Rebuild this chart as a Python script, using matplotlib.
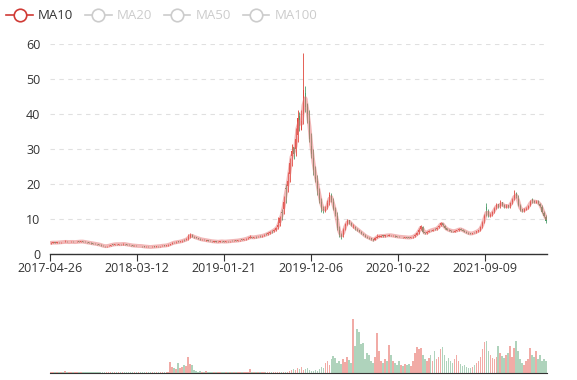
import matplotlib

matplotlib.use("Agg")
import matplotlib.pyplot as plt
import numpy as np
import pandas as pd
from matplotlib.lines import Line2D

plt.rcParams["font.family"] = ["Open Sans", "DejaVu Sans"]

# weekly candles (about 5 trading days each)
opens = [
    3.1, 3.2, 3.3, 3.2, 3.4, 3.3, 3.5, 3.4, 3.5, 3.3,
    3.4, 3.5, 3.3, 3.4, 3.6, 3.5, 3.6, 3.5, 3.4, 3.3,
    3.2, 3.0, 3.0, 2.9, 2.8, 2.7, 2.4, 2.3, 2.2, 2.3,
    2.4, 2.7, 2.6, 2.9, 2.7, 2.9, 2.8, 2.9, 2.8, 2.7,
    2.6, 2.5, 2.3, 2.4, 2.2, 2.4, 2.3, 2.2, 2.0, 2.1,
    2.1, 2.0, 2.2, 2.1, 2.3, 2.2, 2.3, 2.5, 2.4, 2.5,
    2.7, 3.0, 3.4, 3.3, 3.6, 3.5, 3.7, 4.1, 4.0, 4.4,
    4.9, 5.5, 4.9, 4.8, 4.5, 4.3, 4.0, 4.1, 3.8, 3.9,
    3.8, 3.7, 3.5, 3.6, 3.4, 3.5, 3.7, 3.6, 3.5, 3.7,
    3.6, 3.8, 3.7, 3.9, 3.8, 3.9, 4.2, 4.1, 4.3, 4.5,
    4.6, 5.0, 4.7, 5.0, 4.9, 5.2, 5.1, 5.3, 5.7, 5.6,
    5.9, 6.6, 6.6, 7.0, 7.8, 9.0, 12.0, 13.0, 19.0, 19.5,
    23.0, 28.0, 30.5, 30.0, 34.0, 39.5, 35.5, 40.0, 46.0, 43.0,
    38.0, 31.0, 27.5, 22.0, 21.0, 17.5, 15.0, 12.8, 12.4, 13.5,
    15.0, 17.0, 15.0, 12.5, 11.0, 7.0, 5.5, 5.5, 8.0, 8.5,
    9.6, 8.8, 7.6, 7.6, 7.0, 6.8, 6.2, 5.8, 5.2, 4.9,
    4.7, 4.5, 4.2, 4.1, 4.6, 5.0, 5.0, 5.3, 5.1, 5.4,
    5.2, 5.5, 5.1, 5.2, 5.1, 5.0, 4.8, 4.9, 4.7, 4.8,
    4.8, 4.6, 4.9, 5.1, 5.5, 6.2, 7.2, 7.6, 6.3, 6.0,
    6.2, 6.9, 6.7, 7.2, 7.2, 7.6, 8.3, 8.8, 8.0, 7.3,
    7.0, 6.8, 6.7, 6.4, 6.7, 6.9, 7.2, 6.9, 6.6, 6.3,
    6.1, 5.9, 5.8, 6.3, 6.3, 6.6, 7.0, 8.0, 10.2, 13.5,
    12.3, 11.0, 11.5, 12.4, 13.4, 14.2, 13.8, 14.8, 14.0, 13.4,
    13.9, 13.8, 14.8, 16.0, 17.4, 15.8, 13.8, 12.8, 12.4, 12.6,
    13.2, 14.0, 15.6, 15.2, 14.6, 15.1, 14.4, 13.5, 11.8, 10.6,
]
closes = [
    3.2, 3.3, 3.2, 3.3, 3.3, 3.4, 3.4, 3.5, 3.4, 3.4,
    3.5, 3.4, 3.4, 3.5, 3.5, 3.6, 3.5, 3.4, 3.3, 3.2,
    3.1, 3.0, 2.9, 2.8, 2.7, 2.5, 2.3, 2.2, 2.3, 2.4,
    2.6, 2.7, 2.8, 2.8, 2.8, 2.8, 2.9, 2.8, 2.7, 2.6,
    2.5, 2.4, 2.4, 2.3, 2.3, 2.3, 2.2, 2.1, 2.1, 2.0,
    2.0, 2.1, 2.1, 2.2, 2.2, 2.3, 2.4, 2.4, 2.5, 2.7,
    2.9, 3.2, 3.3, 3.4, 3.5, 3.6, 3.8, 4.0, 4.2, 4.9,
    5.4, 5.0, 4.8, 4.6, 4.4, 4.2, 4.1, 4.0, 3.9, 3.8,
    3.7, 3.6, 3.6, 3.5, 3.5, 3.6, 3.6, 3.5, 3.6, 3.6,
    3.7, 3.7, 3.8, 3.8, 3.9, 4.0, 4.1, 4.2, 4.4, 4.6,
    4.9, 4.7, 4.8, 4.9, 5.0, 5.1, 5.2, 5.4, 5.6, 5.9,
    6.2, 6.5, 6.9, 7.3, 8.2, 10.2, 11.7, 15.0, 18.5, 21.0,
    26.0, 29.5, 28.5, 33.0, 39.0, 36.5, 38.0, 47.0, 42.0, 40.0,
    33.0, 28.5, 24.0, 21.5, 18.5, 15.5, 13.0, 12.5, 13.0, 14.5,
    17.0, 15.5, 13.0, 11.5, 7.5, 5.5, 5.0, 7.0, 8.5, 9.5,
    9.0, 8.3, 7.8, 7.3, 6.9, 6.4, 6.0, 5.5, 5.0, 4.8,
    4.5, 4.2, 4.0, 4.6, 5.0, 5.1, 5.2, 5.1, 5.3, 5.3,
    5.4, 5.3, 5.2, 5.1, 5.0, 4.9, 4.9, 4.8, 4.8, 4.7,
    4.7, 4.8, 5.0, 5.4, 5.9, 7.0, 8.0, 6.2, 5.9, 6.3,
    6.6, 6.8, 7.0, 7.1, 7.4, 8.0, 8.9, 8.2, 7.4, 7.0,
    6.8, 6.6, 6.5, 6.6, 6.8, 7.1, 7.0, 6.7, 6.4, 6.1,
    5.9, 5.8, 6.0, 6.2, 6.5, 6.8, 7.6, 9.0, 11.0, 12.5,
    11.0, 11.2, 12.0, 13.0, 14.0, 13.5, 14.6, 14.0, 13.5, 13.8,
    13.5, 14.5, 15.5, 17.0, 16.5, 14.0, 12.6, 12.3, 12.8, 13.0,
    13.8, 15.0, 15.2, 14.8, 15.0, 14.5, 13.8, 12.1, 11.0, 9.5,
]
highs = [
    3.3, 3.4, 3.4, 3.4, 3.4, 3.5, 3.5, 3.9, 3.6, 3.5,
    3.6, 3.6, 3.5, 3.6, 3.7, 3.8, 3.7, 3.6, 3.5, 3.4,
    3.3, 3.2, 3.1, 3.0, 2.9, 2.8, 2.6, 2.4, 2.4, 2.5,
    2.7, 2.8, 2.9, 2.9, 2.9, 3.0, 3.2, 3.0, 2.9, 2.8,
    2.7, 2.6, 2.5, 2.5, 2.4, 2.4, 2.4, 2.3, 2.2, 2.2,
    2.1, 2.2, 2.2, 2.3, 2.3, 2.4, 2.5, 2.5, 2.6, 2.8,
    3.0, 3.4, 3.5, 3.6, 3.7, 3.8, 4.0, 4.2, 4.5, 5.6,
    5.9, 5.6, 5.2, 5.0, 4.7, 4.5, 4.4, 4.2, 4.1, 4.0,
    3.9, 3.8, 3.7, 3.7, 3.6, 3.7, 3.8, 3.7, 3.7, 3.8,
    3.8, 3.9, 3.9, 4.0, 4.0, 4.1, 4.3, 4.4, 4.6, 4.8,
    5.4, 5.0, 5.0, 5.1, 5.2, 5.3, 5.5, 5.7, 5.9, 6.2,
    6.5, 6.8, 7.2, 7.6, 10.7, 11.0, 12.8, 16.5, 20.0, 23.5,
    27.5, 31.5, 30.5, 36.0, 41.0, 40.5, 41.0, 57.5, 48.0, 43.0,
    41.0, 34.5, 30.0, 25.0, 22.5, 19.0, 16.0, 13.8, 13.8, 15.5,
    17.8, 17.5, 16.0, 13.5, 12.0, 8.0, 6.0, 7.5, 9.0, 10.0,
    9.8, 9.2, 8.5, 8.0, 7.5, 7.0, 6.6, 6.1, 5.6, 5.2,
    4.9, 4.6, 4.3, 4.8, 5.6, 5.3, 5.4, 5.3, 5.5, 5.5,
    5.6, 5.5, 5.4, 5.3, 5.2, 5.1, 5.0, 5.0, 4.9, 4.9,
    4.8, 4.9, 5.2, 5.6, 6.2, 7.4, 8.4, 8.1, 6.4, 6.5,
    6.8, 7.0, 7.2, 7.3, 7.6, 8.3, 9.2, 9.0, 8.3, 7.5,
    7.1, 6.9, 6.7, 6.8, 7.0, 7.3, 7.3, 7.1, 6.8, 6.5,
    6.2, 6.0, 6.1, 6.4, 6.7, 7.0, 7.9, 9.5, 11.5, 14.5,
    12.8, 11.8, 12.4, 13.5, 14.6, 14.3, 15.3, 15.0, 14.2, 14.3,
    14.1, 14.8, 16.0, 18.2, 17.6, 16.8, 14.2, 12.9, 13.2, 13.5,
    14.0, 15.4, 15.9, 15.4, 15.5, 15.3, 14.7, 14.0, 12.4, 11.2,
]
lows = [
    3.0, 3.1, 3.1, 3.1, 3.2, 3.2, 3.3, 3.3, 3.3, 3.3,
    3.3, 3.3, 3.3, 3.3, 3.4, 3.4, 3.4, 3.3, 3.2, 3.1,
    3.0, 2.9, 2.8, 2.7, 2.6, 2.4, 2.2, 2.1, 2.1, 2.2,
    2.3, 2.5, 2.6, 2.7, 2.7, 2.7, 2.7, 2.7, 2.6, 2.5,
    2.4, 2.3, 2.3, 2.2, 2.2, 2.2, 2.1, 2.0, 2.0, 1.9,
    1.9, 1.9, 2.0, 2.0, 2.1, 2.1, 2.2, 2.3, 2.3, 2.4,
    2.6, 2.8, 3.1, 3.2, 3.3, 3.4, 3.5, 3.7, 3.9, 4.1,
    4.7, 4.9, 4.7, 4.5, 4.3, 4.1, 4.0, 3.9, 3.8, 3.7,
    3.6, 3.5, 3.5, 3.4, 3.4, 3.4, 3.5, 3.4, 3.4, 3.5,
    3.5, 3.6, 3.6, 3.7, 3.7, 3.8, 3.9, 4.0, 4.1, 4.3,
    4.5, 4.6, 4.6, 4.7, 4.8, 4.9, 5.0, 5.1, 5.3, 5.5,
    5.8, 6.0, 6.3, 6.7, 7.1, 8.0, 9.6, 11.3, 14.5, 17.8,
    20.5, 25.0, 27.0, 28.0, 32.0, 35.0, 35.5, 37.0, 40.5, 37.5,
    32.0, 27.5, 22.5, 20.5, 17.0, 14.5, 12.0, 11.8, 12.0, 12.8,
    14.0, 15.0, 12.5, 11.0, 7.0, 5.0, 4.3, 4.8, 6.8, 8.2,
    8.7, 8.0, 7.5, 7.0, 6.6, 6.2, 5.8, 5.3, 4.8, 4.6,
    4.3, 4.0, 3.8, 3.9, 4.5, 4.9, 5.0, 4.9, 5.0, 5.1,
    5.2, 5.2, 5.1, 5.0, 4.9, 4.8, 4.8, 4.7, 4.7, 4.6,
    4.6, 4.6, 4.7, 4.9, 5.3, 5.8, 6.8, 6.0, 5.7, 5.8,
    6.2, 6.5, 6.7, 6.9, 7.0, 7.3, 7.9, 8.0, 7.2, 6.8,
    6.6, 6.4, 6.3, 6.4, 6.5, 6.7, 6.8, 6.6, 6.3, 6.0,
    5.8, 5.7, 5.7, 5.9, 6.1, 6.4, 6.7, 7.5, 8.8, 10.8,
    10.6, 10.7, 11.0, 11.8, 12.8, 13.2, 13.2, 13.7, 13.2, 13.2,
    13.1, 13.2, 14.3, 15.3, 16.1, 13.7, 12.2, 11.9, 12.1, 12.6,
    12.8, 13.6, 14.7, 14.5, 14.6, 14.2, 13.5, 11.8, 10.6, 9.0,
]
volumes = [
    1, 1, 1, 1, 1, 1, 1, 2, 1, 1,
    1, 1, 1, 1, 1, 1, 1, 1, 1, 1,
    1, 1, 1, 1, 1, 1, 1, 1, 1, 1,
    1, 1, 1, 1, 1, 1, 1, 1, 1, 1,
    1, 1, 1, 1, 1, 1, 1, 1, 1, 1,
    1, 1, 1, 1, 1, 1, 1, 1, 1, 1.5,
    11, 6, 5, 4, 10, 5, 6, 8, 7, 16,
    9, 8, 3, 2, 1.5, 2, 1, 1, 2, 1,
    1.5, 1, 1, 1, 1.5, 1, 1, 1, 1, 1,
    1, 1, 1, 1, 1, 1, 1, 1.5, 1, 1,
    4, 1, 1, 1, 1, 1, 1, 1, 1, 1,
    1, 1, 1.5, 1, 1, 1, 1, 1, 1, 1,
    2, 3, 4, 3, 5, 4, 6, 3, 4, 5,
    3, 2, 2, 3, 2, 4, 6, 5, 10, 12,
    8, 14, 17, 15, 10, 12, 9, 14, 11, 16,
    13, 10, 55, 28, 45, 42, 30, 31, 14, 20,
    18, 12, 10, 16, 41, 22, 12, 10, 14, 12,
    29, 18, 12, 10, 8, 12, 8, 7, 9, 8,
    9, 7, 12, 20, 26, 24, 25, 18, 14, 12,
    15, 18, 12, 22, 14, 16, 24, 26, 18, 12,
    15, 12, 10, 14, 18, 12, 9, 7, 8, 6,
    5, 5, 6, 8, 10, 12, 16, 24, 32, 33,
    22, 18, 15, 14, 16, 28, 20, 17, 15, 18,
    20, 28, 16, 25, 33, 22, 14, 10, 8, 12,
    14, 25, 18, 16, 22, 14, 18, 12, 14, 12,
]
tick_labels = ["2017-04-26", "2018-03-12", "2019-01-21",
               "2019-12-06", "2020-10-22", "2021-09-09"]
legend_names = ["MA10", "MA20", "MA50", "MA100"]

df = pd.DataFrame({"open": opens, "close": closes, "high": highs,
                   "low": lows, "vol": volumes})
# MA10 on daily bars spans about two weekly bars
df["ma10"] = df["close"].rolling(2, min_periods=1).mean()
x = np.arange(len(df))
up = (df["close"] > df["open"]).to_numpy()

UP = "#e0463a"
DOWN = "#4f9e6c"

fig = plt.figure(figsize=(5.77, 3.80), dpi=100)
ax = fig.add_axes([50 / 577, 126 / 380, 497 / 577, 210 / 380])
axv = fig.add_axes([50 / 577, 7 / 380, 497 / 577, 55 / 380])

# candles
cols = np.where(up, UP, DOWN)
ax.vlines(x, df["low"], df["high"], colors=cols, lw=0.6, zorder=2)
body_lo = np.minimum(df["open"], df["close"])
body_h = np.maximum((df["close"] - df["open"]).abs(), 0.08)
ax.bar(x, body_h, bottom=body_lo, width=0.55, color=cols, lw=0, zorder=2)
ax.plot(x, df["ma10"], color="#e57070", lw=2.8, alpha=0.5, zorder=3,
        solid_capstyle="round")

n = len(df)
ax.set_xlim(-0.5, n - 0.5)
ax.set_ylim(0, 60)
ax.set_yticks(range(0, 61, 10))
ax.grid(axis="y", color="#e0e0e0", ls=(0, (4, 4)), lw=0.8)
ax.set_axisbelow(True)
for s in ["top", "right", "left"]:
    ax.spines[s].set_visible(False)
ax.spines["bottom"].set_color("#333333")
ax.spines["bottom"].set_linewidth(1.0)
ax.tick_params(axis="y", length=0, labelsize=9, labelcolor="#333333", pad=7)
pos = [-0.5 + k * 0.1752 * n for k in range(len(tick_labels))]
ax.set_xticks(pos)
ax.set_xticklabels(tick_labels)
ax.tick_params(axis="x", length=5, color="#333333", labelsize=9,
               labelcolor="#333333", pad=1)

# volume
axv.bar(x, df["vol"], width=0.8, color=cols, alpha=0.45, lw=0)
axv.set_xlim(-0.5, n - 0.5)
axv.set_ylim(0, 56)
for s in ["top", "right", "left"]:
    axv.spines[s].set_visible(False)
axv.spines["bottom"].set_color("#333333")
axv.set_xticks([])
axv.set_yticks([])

# legend (only MA10 active)
handles = []
for i, name in enumerate(legend_names):
    c = "#d03a35" if i == 0 else "#cccccc"
    handles.append(Line2D([], [], color=c, lw=1.2, marker="o", markersize=9,
                          markerfacecolor="white", markeredgewidth=1.2))
leg = fig.legend(handles, legend_names, loc="upper left", ncol=4,
                 bbox_to_anchor=(-0.005, 1.0), frameon=False, fontsize=9.5,
                 handlelength=2.0, handletextpad=0.4, columnspacing=0.9,
                 borderaxespad=0.3)
for i, t in enumerate(leg.get_texts()):
    t.set_color("#333333" if i == 0 else "#cccccc")

fig.savefig("out.png", dpi=100)
